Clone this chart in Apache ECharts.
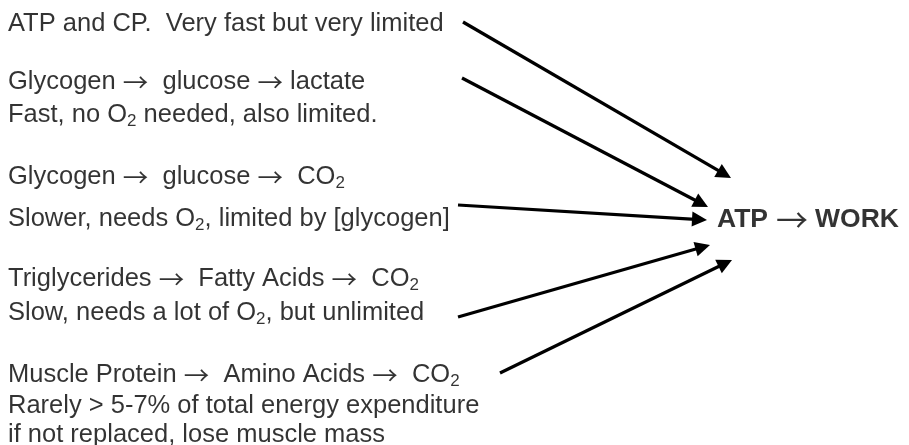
<!DOCTYPE html>
<html>
<head>
    <meta charset="UTF-8">
    <script src="https://cdn.jsdelivr.net/npm/echarts@6/dist/echarts.min.js"></script>
    <style>
        html, body { margin: 0; padding: 0; background: #fff; }
        #main { width: 909px; height: 445px; }
    </style>
</head>
<body>
<div id="main"></div>
<script>
    // left-hand notes (text + vertical position of each line)
    var noteLines = [
        'ATP and CP.  Very fast but very limited',
        'Glycogen \u2192  glucose \u2192 lactate',
        'Fast, no O\u2082 needed, also limited.',
        'Glycogen \u2192  glucose \u2192  CO\u2082',
        'Slower, needs O\u2082, limited by [glycogen]',
        'Triglycerides \u2192  Fatty Acids \u2192  CO\u2082',
        'Slow, needs a lot of O\u2082, but unlimited',
        'Muscle Protein \u2192  Amino Acids \u2192  CO\u2082',
        'Rarely > 5-7% of total energy expenditure',
        'if not replaced, lose muscle mass'
    ];
    var noteY = [24, 82, 115, 177, 219, 279, 313, 375, 406, 435];
    var noteX = 8;

    // arrows: start point and tip
    var arrowFrom = [[463, 22], [462, 78], [458, 205], [458, 317], [500, 373]];
    var arrowTo = [[731, 178], [708, 207], [707, 220], [710, 245], [732, 260]];

    var targetText = 'ATP \u2192 WORK';
    var targetPos = [717, 220];

    var font = '"Liberation Sans", Arial, sans-serif';
    var arrowFont = '"Noto Sans CJK SC", "DejaVu Sans", sans-serif';
    var headSize = 15;

    function toRich(s) {
        var out = '';
        s.split('\u2192').forEach(function (seg, i) {
            if (i > 0) out += '{a|\u2192}';
            out += seg.split('\u2082').map(function (part) {
                return part ? '{n|' + part + '}' : '';
            }).join('{s|2}');
        });
        return out;
    }

    // pull the line end back so the arrow head's tip lands on the tip point
    function shorten(from, to, d) {
        var dx = to[0] - from[0], dy = to[1] - from[1];
        var len = Math.sqrt(dx * dx + dy * dy);
        return [to[0] - dx / len * d, to[1] - dy / len * d];
    }

    var myChart = echarts.init(document.getElementById('main'));

    var option = {
        animation: false,
        grid: { left: 0, right: 0, top: 0, bottom: 0 },
        xAxis: { type: 'value', min: 0, max: 909, show: false },
        yAxis: { type: 'value', min: 0, max: 445, inverse: true, show: false },
        series: [
            {
                type: 'scatter',
                symbolSize: 0,
                silent: true,
                data: noteLines.map(function (t, i) { return { value: [noteX, noteY[i]], name: t }; }),
                label: {
                    show: true,
                    position: 'right',
                    distance: 0,
                    color: '#000',
                    formatter: function (p) { return toRich(p.name); },
                    rich: {
                        n: { fontFamily: font, fontSize: 25.5, color: '#000', lineHeight: 30 },
                        a: { fontFamily: arrowFont, fontSize: 25.5, color: '#000', lineHeight: 30 },
                        s: { fontFamily: font, fontSize: 17, color: '#000', lineHeight: 16, verticalAlign: 'bottom' }
                    }
                }
            },
            {
                type: 'scatter',
                symbolSize: 0,
                silent: true,
                data: [{ value: targetPos, name: targetText }],
                label: {
                    show: true,
                    position: 'right',
                    distance: 0,
                    color: '#000',
                    formatter: function (p) {
                        var parts = p.name.split(' \u2192 ');
                        return '{b|' + parts[0] + '}{a|\u2192}{b|' + parts[1] + '}';
                    },
                    rich: {
                        b: { fontFamily: font, fontSize: 26.5, fontWeight: 'bold', color: '#000', lineHeight: 30 },
                        a: { fontFamily: arrowFont, fontSize: 32, color: '#000', lineHeight: 30, padding: [0, 7, 0, 8] }
                    }
                }
            },
            {
                type: 'lines',
                coordinateSystem: 'cartesian2d',
                silent: true,
                symbol: ['none', 'triangle'],
                symbolSize: headSize,
                lineStyle: { color: '#000', width: 3.2, opacity: 1, curveness: 0 },
                data: arrowFrom.map(function (p, i) {
                    return { coords: [p, shorten(p, arrowTo[i], headSize / 2)] };
                })
            }
        ]
    };

    myChart.setOption(option);
</script>
</body>
</html>
